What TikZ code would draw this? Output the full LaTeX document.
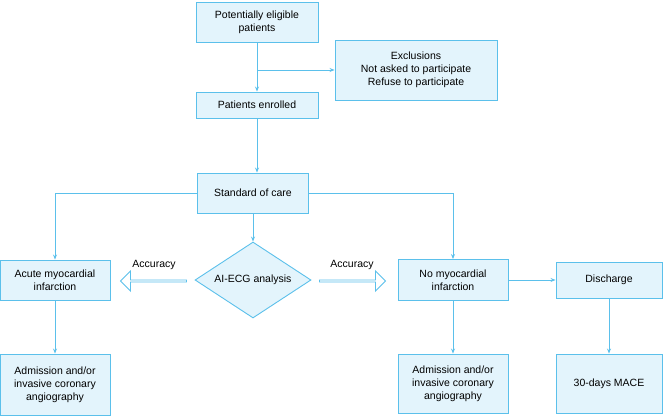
\documentclass[tikz,border=0pt]{standalone}
\usepackage{fontspec}
\setmainfont{Liberation Sans}
\usetikzlibrary{shapes.geometric,shapes.arrows,arrows.meta}
\definecolor{edge}{HTML}{5BC0EB}
\definecolor{pale}{HTML}{E3F4FC}
\begin{document}
\begin{tikzpicture}[x=1pt,y=-1pt, font=\fontsize{10.5}{13}\selectfont,
    box/.style = {draw=edge, fill=pale, line width=0.9pt, align=center, inner sep=0pt},
    link/.style = {draw=edge, line width=0.9pt, -{Stealth[length=5pt,width=4pt]}},
    fat/.style = {single arrow, draw=edge, line width=0.9pt, fill=white, minimum height=66pt, minimum width=20pt, single arrow head extend=4pt, inner sep=0pt}]
    \useasboundingbox (0,0) rectangle (666,415);

    \node[box, minimum width=122, minimum height=40] (elig) at (257,22) {Potentially eligible\\patients};
    \node[box, minimum width=162, minimum height=60] (excl) at (416,70) {Exclusions\\Not asked to participate\\Refuse to participate};
    \node[box, minimum width=122, minimum height=26] (enrol) at (257,105) {Patients enrolled};
    \node[box, minimum width=111, minimum height=40] (soc) at (253,193) {Standard of care};
    \node[box, diamond, aspect=1.55, minimum width=116, minimum height=76] (ai) at (253,280) {AI-ECG analysis};
    \node[box, minimum width=110, minimum height=40] (ami) at (55,280) {Acute myocardial\\infarction};
    \node[box, minimum width=110, minimum height=41] (nomi) at (453,280) {No myocardial\\infarction};
    \node[box, minimum width=106, minimum height=36] (dis) at (609,280) {Discharge};
    \node[box, minimum width=110, minimum height=61] (adl) at (55,384.5) {Admission and/or\\invasive coronary\\angiography};
    \node[box, minimum width=110, minimum height=59] (adr) at (453,383.5) {Admission and/or\\invasive coronary\\angiography};
    \node[box, minimum width=106, minimum height=59] (mace) at (609,383.5) {30-days MACE};

    \coordinate (split) at (elig.south |- excl.west);
    \draw[link] (elig) -- (enrol);
    \draw[link] (split) -- (excl);
    \draw[link] (enrol.south) -- (enrol.south |- soc.north);
    \draw[link] (soc) -- (ai);
    \draw[link] (soc.west) -| (ami.north);
    \draw[link] (soc.east) -| (nomi.north);
    \draw[link] (nomi) -- (dis);
    \draw[link] (ami) -- (adl);
    \draw[link] (nomi) -- (adr);
    \draw[link] (dis) -- (mace);

    \node[fat, shape border rotate=180] (accl) at (154,281) {};
    \node[fat] (accr) at (352,281) {};
    \node[above=6pt] at (accl.north) {Accuracy};
    \node[above=6pt] at (accr.north) {Accuracy};
\end{tikzpicture}
\end{document}
